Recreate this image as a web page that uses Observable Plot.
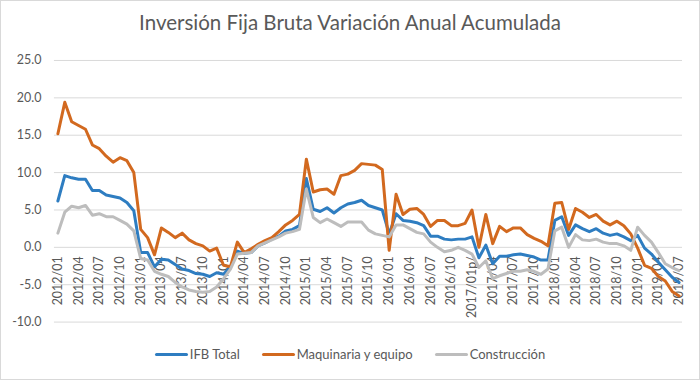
<!DOCTYPE html>
<html>
<head>
<meta charset="utf-8">
<script src="https://cdn.jsdelivr.net/npm/d3@7"></script>
<script src="https://cdn.jsdelivr.net/npm/@observablehq/plot@0.6"></script>
<style>
  html, body { margin: 0; padding: 0; background: #fff; }
  #frame { position: relative; width: 698px; height: 378px; border: 1px solid #d9d9d9; overflow: hidden; font-family: Lato, "Open Sans", sans-serif; }
  #title { position: absolute; left: 0; top: 6px; width: 698px; text-align: center; font-size: 20.5px; color: #595959; line-height: 30px; }
  #chart { position: absolute; left: -1px; top: 44px; }
  #legend { position: absolute; left: 0; top: 343px; width: 698px; height: 20px; display: flex; justify-content: center; align-items: center; font-size: 13px; color: #595959; }
  .item { display: flex; align-items: center; margin: 0 11px; }
  .swatch { width: 33px; height: 3px; border-radius: 2px; margin-right: 2px; }
</style>
</head>
<body>
<div id="frame">
  <div id="title">Inversión Fija Bruta Variación Anual Acumulada</div>
  <div id="chart"></div>
  <div id="legend"></div>
</div>
<script>
const months = [
  "2012/01","2012/02","2012/03","2012/04","2012/05","2012/06","2012/07","2012/08","2012/09","2012/10","2012/11","2012/12",
  "2013/01","2013/02","2013/03","2013/04","2013/05","2013/06","2013/07","2013/08","2013/09","2013/10","2013/11","2013/12",
  "2014/01","2014/02","2014/03","2014/04","2014/05","2014/06","2014/07","2014/08","2014/09","2014/10","2014/11","2014/12",
  "2015/01","2015/02","2015/03","2015/04","2015/05","2015/06","2015/07","2015/08","2015/09","2015/10","2015/11","2015/12",
  "2016/01","2016/02","2016/03","2016/04","2016/05","2016/06","2016/07","2016/08","2016/09","2016/10","2016/11","2016/12",
  "2017/01p/","2017/02","2017/03","2017/04","2017/05","2017/06","2017/07","2017/08","2017/09","2017/10","2017/11","2017/12",
  "2018/01","2018/02","2018/03","2018/04","2018/05","2018/06","2018/07","2018/08","2018/09","2018/10","2018/11","2018/12",
  "2019/01","2019/02","2019/03","2019/04","2019/05","2019/06","2019/07"
];
const xTickLabels = [
  "2012/01","2012/04","2012/07","2012/10","2013/01","2013/04","2013/07","2013/10",
  "2014/01","2014/04","2014/07","2014/10","2015/01","2015/04","2015/07","2015/10",
  "2016/01","2016/04","2016/07","2016/10","2017/01p/","2017/04","2017/07","2017/10",
  "2018/01","2018/04","2018/07","2018/10","2019/01","2019/04","2019/07"
];
const yTicks = [-10, -5, 0, 5, 10, 15, 20, 25];

const ifbTotal = [
  6.2, 9.6, 9.3, 9.1, 9.1, 7.6, 7.6, 7.0, 6.8, 6.6, 6.0, 4.9,
  -0.7, -0.7, -2.6, -1.6, -1.7, -2.3, -2.9, -3.1, -3.5, -3.6, -3.9, -3.4,
  -3.6, -2.6, -0.5, -0.8, -0.7, 0.2, 0.6, 1.1, 1.5, 2.2, 2.4, 2.9,
  9.2, 5.1, 4.8, 5.3, 4.6, 5.3, 5.8, 6.0, 6.3, 5.6, 5.3, 5.0,
  1.8, 4.5, 3.6, 3.5, 3.3, 2.9, 1.5, 1.5, 1.1, 1.0, 1.1, 1.1,
  1.4, -1.4, 0.3, -2.2, -1.2, -1.2, -1.0, -0.9, -1.1, -1.3, -1.7, -1.7,
  3.6, 4.1, 1.6, 3.0, 2.5, 2.1, 2.5, 1.9, 1.6, 1.8, 1.4, 0.9,
  1.6, -0.1, -0.9, -2.0, -3.0, -4.0, -4.7
];
const maquinaria = [
  15.2, 19.4, 16.8, 16.3, 15.8, 13.7, 13.2, 12.2, 11.4, 12.0, 11.6, 10.0,
  2.4, 1.3, -1.0, 2.6, 2.0, 1.3, 1.9, 1.0, 0.5, 0.2, -0.5, -0.1,
  -2.4, -2.6, 0.7, -0.7, -0.2, 0.4, 0.9, 1.3, 2.1, 3.0, 3.6, 4.4,
  11.8, 7.4, 7.7, 7.8, 7.1, 9.6, 9.8, 10.3, 11.2, 11.1, 11.0, 10.4,
  -0.4, 7.1, 4.4, 5.1, 5.2, 4.4, 2.8, 3.6, 3.6, 2.9, 2.9, 3.2,
  5.0, 0.0, 4.4, 0.5, 2.8, 2.1, 2.6, 2.6, 1.7, 1.2, 0.8, 0.2,
  5.9, 6.0, 2.4, 5.2, 4.7, 4.0, 4.4, 3.5, 3.0, 3.5, 2.9, 1.8,
  -0.1, -2.4, -2.8, -3.9, -4.5, -5.9, -6.5
];
const construccion = [
  1.9, 4.7, 5.5, 5.3, 5.6, 4.3, 4.5, 4.1, 4.1, 3.6, 3.1, 2.2,
  -1.5, -1.7, -3.2, -3.6, -3.9, -4.7, -5.3, -5.7, -5.9, -6.0, -5.9, -5.3,
  -4.2, -2.9, -0.9, -0.8, -0.7, 0.2, 0.6, 1.0, 1.4, 1.9, 2.1, 2.4,
  7.8, 4.0, 3.3, 3.8, 3.3, 2.8, 3.4, 3.4, 3.4, 2.3, 1.8, 1.6,
  1.4, 3.0, 3.0, 2.5, 2.0, 1.8, 0.7, 0.0, -0.6, -0.4, 0.0, -0.4,
  -0.9, -2.7, -1.8, -4.2, -3.8, -3.5, -3.2, -3.2, -3.0, -3.2, -3.6, -2.9,
  2.2, 2.7, 0.0, 1.7, 1.0, 0.9, 1.1, 0.7, 0.5, 0.5, 0.2, -0.4,
  2.7, 1.6, 0.7, -0.7, -2.2, -2.7, -3.1
];

const seriesNames = ["IFB Total", "Maquinaria y equipo", "Construcción"];
const seriesColors = ["#2e7dc1", "#d2691f", "#bdbdbd"];
const seriesValues = [ifbTotal, maquinaria, construccion];

const rows = [];
seriesValues.forEach((vals, s) => vals.forEach((v, i) => rows.push({month: months[i], value: v, series: seriesNames[s]})));

const font = "Lato, 'Open Sans', sans-serif";
const chart = Plot.plot({
  width: 700,
  height: 300,
  marginLeft: 54,
  marginRight: 17,
  marginTop: 15,
  marginBottom: 23,
  style: {fontFamily: font, background: "transparent", overflow: "visible"},
  x: {type: "point", domain: months, padding: 0.5, axis: null},
  y: {domain: [-10, 25], axis: null},
  color: {domain: seriesNames, range: seriesColors},
  marks: [
    Plot.ruleY(yTicks, {stroke: "#d9d9d9", strokeWidth: 1}),
    Plot.axisY(yTicks, {tickSize: 0, tickPadding: 13, tickFormat: d => d.toFixed(1), fill: "#595959", fontSize: 12.5, label: null}),
    Plot.text(xTickLabels, {x: d => d, y: 0, text: d => d, rotate: -90, textAnchor: "end", dy: 9, fill: "#595959", fontSize: 12.5}),
    Plot.line(rows, {x: "month", y: "value", z: "series", stroke: "series", strokeWidth: 3, strokeLinejoin: "round", strokeLinecap: "round"})
  ]
});
document.getElementById("chart").appendChild(chart);

const legend = document.getElementById("legend");
seriesNames.forEach((name, i) => {
  const item = document.createElement("div");
  item.className = "item";
  const sw = document.createElement("div");
  sw.className = "swatch";
  sw.style.background = seriesColors[i];
  const label = document.createElement("span");
  label.textContent = name;
  item.appendChild(sw);
  item.appendChild(label);
  legend.appendChild(item);
});
</script>
</body>
</html>
